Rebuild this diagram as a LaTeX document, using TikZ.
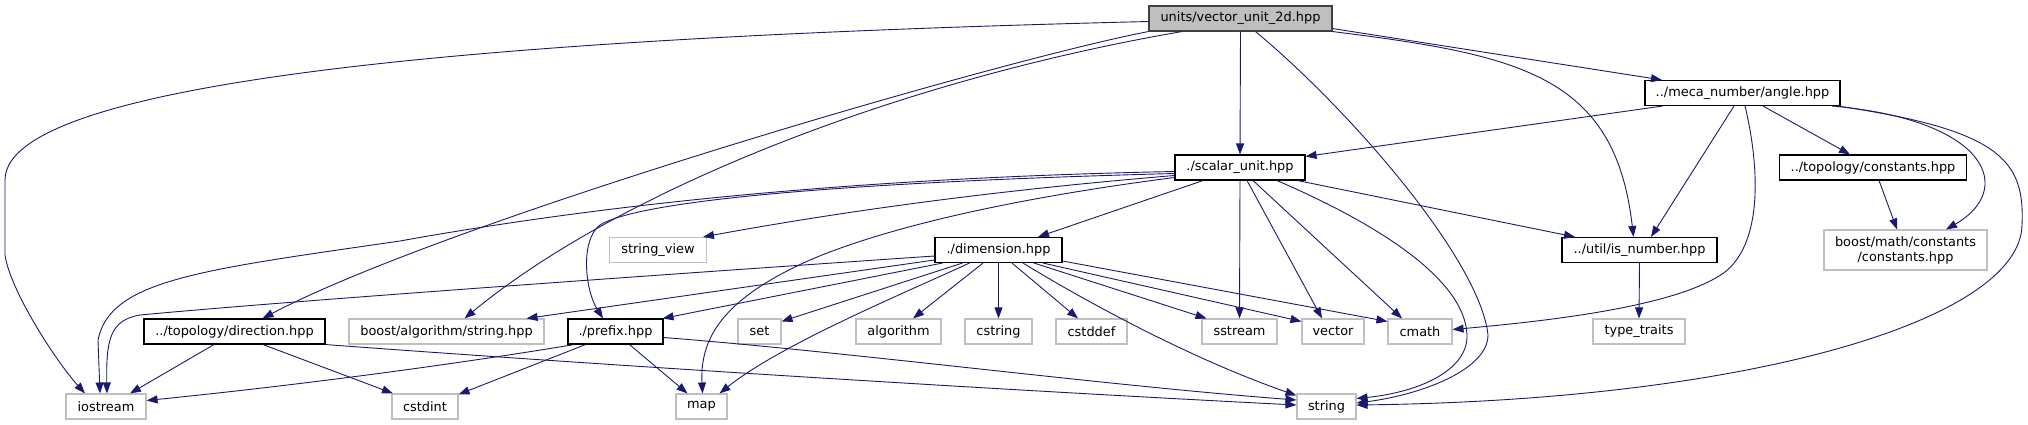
\documentclass[tikz,border=0pt]{standalone}
\usepackage{fontspec}
\setmainfont{DejaVu Sans}
\usetikzlibrary{arrows.meta,calc}
\definecolor{edgec}{RGB}{25,25,112}
\definecolor{greyb}{RGB}{191,191,191}
\definecolor{rootb}{RGB}{64,64,64}
\begin{document}
\begin{tikzpicture}[x=1pt,y=-1pt,
  box/.style={draw=black,line width=1.1pt,fill=white,minimum height=25pt,inner sep=0pt,font=\fontsize{12.9}{15}\selectfont},
  ext/.style={box,draw=greyb},
  root/.style={box,fill=greyb,draw=rootb},
  e/.style={draw=edgec,line width=0.9pt,-{Triangle[length=11pt,width=8pt]}}]
\useasboundingbox (0,0) rectangle (2028,425);
% nodes
\node[root,minimum width=183pt] (VU) at (1240.5,18.5) {units/vector\_unit\_2d.hpp};
\node[box,minimum width=195pt] (AN) at (1742.5,93) {../meca\_number/angle.hpp};
\node[box,minimum width=130pt] (SU) at (1240,167.5) {./scalar\_unit.hpp};
\node[box,minimum width=187pt] (TC) at (1873,167.5) {../topology/constants.hpp};
\node[ext,minimum width=97pt] (SV) at (658,250) {string\_view};
\node[box,minimum width=127pt] (DI) at (998.5,250) {./dimension.hpp};
\node[box,minimum width=155pt] (ISN) at (1639.5,250) {../util/is\_number.hpp};
\node[ext,minimum width=163pt,minimum height=40pt,align=center] (BMC) at (1905.5,250) {boost/math/constants\\/constants.hpp};
\node[box,minimum width=181pt] (DR) at (234.5,331.5) {../topology/direction.hpp};
\node[ext,minimum width=195pt] (BAS) at (446.5,331.5) {boost/algorithm/string.hpp};
\node[box,minimum width=95pt] (PR) at (615.5,331.5) {./prefix.hpp};
\node[ext,minimum width=43pt] (SET) at (759.5,331.5) {set};
\node[ext,minimum width=85pt] (ALG) at (898.5,331.5) {algorithm};
\node[ext,minimum width=67pt] (CS) at (998.5,331.5) {cstring};
\node[ext,minimum width=71pt] (CD) at (1091.5,331.5) {cstddef};
\node[ext,minimum width=75pt] (SS) at (1239.5,331.5) {sstream};
\node[ext,minimum width=62pt] (VEC) at (1333,331.5) {vector};
\node[ext,minimum width=64pt] (CM) at (1420,331.5) {cmath};
\node[ext,minimum width=92pt] (TT) at (1639,331.5) {type\_traits};
\node[ext,minimum width=80pt] (IO) at (106,406.5) {iostream};
\node[ext,minimum width=66pt] (CI) at (425,406.5) {cstdint};
\node[ext,minimum width=51pt] (MAP) at (701.5,406.5) {map};
\node[ext,minimum width=59pt] (STR) at (1326.5,406.5) {string};
% edges from VU
\draw[e] ([yshift=-3pt]VU.west) .. controls (600,35) and (5,70) .. (5,180) -- (5,255) .. controls (10,290) and (55,360) .. ([xshift=-21pt]IO.north);
\draw[e] (VU.south west) .. controls (1000,60) and (450,220) .. ([xshift=28pt]DR.north);
\draw[e] ([xshift=-58.5pt]VU.south) .. controls (900,80) and (620,190) .. ([xshift=18pt]BAS.north);
\draw[e] (VU.south) -- (SU.north);
\draw[e] ([xshift=15pt]VU.south) .. controls (1350,110) and (1480,260) .. (1488,335) .. controls (1488,370) and (1420,395) .. ([yshift=3.5pt]STR.east);
\draw[e] (VU.south east) .. controls (1520,55) and (1615,75) .. ([xshift=-6pt]ISN.north);
\draw[e] ([yshift=3pt]VU.south east) -- ([xshift=-80.5pt]AN.north);
% edges from AN
\draw[e] ([xshift=-80pt]AN.south) -- ([yshift=-2pt]SU.north east);
\draw[e] ([xshift=-8.5pt]AN.south) -- ([xshift=11.5pt]ISN.north);
\draw[e] ([xshift=2.5pt]AN.south) .. controls (1758,160) and (1765,240) .. (1725,272) .. controls (1680,305) and (1560,320) .. ([yshift=2pt]CM.east);
\draw[e] ([xshift=20.5pt]AN.south) -- ([xshift=-23pt]TC.north);
\draw[e] ([xshift=-8.5pt]AN.south east) .. controls (1990,120) and (2015,190) .. ([xshift=40.5pt]BMC.north);
\draw[e] ([xshift=-3pt]AN.south east) .. controls (2000,130) and (2025,160) .. (2022,225) .. controls (2020,320) and (1750,400) .. ([yshift=1.5pt]STR.east);
\draw[e] ([xshift=6pt]TC.south) -- ([xshift=-8.5pt]BMC.north);
\draw[e] (ISN.south) -- (TT.north);
% edges from SU
\draw[e] ([yshift=-8pt]SU.west) .. controls (1000,190) and (850,210) .. ([xshift=45pt]SV.north);
\draw[e] ([yshift=-4pt]SU.west) .. controls (850,178) and (600,205) .. (400,241) .. controls (200,270) and (110,280) .. (98,340) -- ([xshift=-6pt]IO.north);
\draw[e] ([yshift=-6pt]SU.west) .. controls (850,182) and (640,200) .. (600,225) .. controls (580,240) and (585,290) .. ([xshift=-12.5pt]PR.north);
\draw[e] ([yshift=-10pt]SU.west) .. controls (1000,200) and (880,230) .. (810,260) .. controls (720,300) and (700,340) .. ([xshift=1pt]MAP.north);
\draw[e] ([xshift=-37pt]SU.south) -- ([xshift=39.5pt]DI.north);
\draw[e] (SU.south) -- (SS.north);
\draw[e] ([xshift=7pt]SU.south) -- ([xshift=-11pt]VEC.north);
\draw[e] ([xshift=13pt]SU.south) -- ([xshift=-18pt]CM.north);
\draw[e] ([xshift=37pt]SU.south) .. controls (1380,225) and (1465,280) .. (1467,335) .. controls (1468,370) and (1420,392) .. ([yshift=8pt]STR.east);
\draw[e] ([xshift=-8pt]SU.south east) -- ([xshift=-64.5pt]ISN.north);
% edges from DI
\draw[e] ([yshift=-6pt]DI.west) .. controls (700,272) and (300,300) .. (140,315) .. controls (110,320) and (106,340) .. ([xshift=1pt]IO.north);
\draw[e] ([yshift=-10pt]DI.west) -- ([xshift=80pt]BAS.north);
\draw[e] ([xshift=8pt]DI.south west) -- ([xshift=-1pt]PR.north east);
\draw[e] ([xshift=28pt]DI.south west) -- ([yshift=-3pt]SET.north east);
\draw[e] ([xshift=35pt]DI.south west) .. controls (900,295) and (780,345) .. ([xshift=18pt]MAP.north);
\draw[e] ([xshift=-15.5pt]DI.south) -- ([xshift=14.5pt]ALG.north);
\draw[e] (DI.south) -- (CS.north);
\draw[e] ([xshift=13.5pt]DI.south) -- ([xshift=-13.5pt]CD.north);
\draw[e] ([xshift=24.5pt]DI.south) .. controls (1100,310) and (1200,362) .. ([yshift=-2pt]STR.north west);
\draw[e] ([xshift=35.5pt]DI.south) -- ([xshift=-33pt]SS.north);
\draw[e] ([xshift=44.5pt]DI.south) -- ([yshift=-3pt]VEC.north west);
\draw[e] ([yshift=-11pt]DI.east) -- ([yshift=-3pt]CM.north west);
% edges from PR
\draw[e] ([xshift=7pt]PR.south west) .. controls (450,365) and (300,385) .. ([yshift=6pt]IO.east);
\draw[e] ([xshift=-30pt]PR.south) -- ([yshift=-1pt]CI.north east);
\draw[e] ([xshift=14pt]PR.south) -- ([xshift=-14pt]MAP.north);
\draw[e] ([yshift=-6pt]PR.east) .. controls (850,352) and (1100,385) .. ([yshift=6.5pt]STR.west);
% edges from DR
\draw[e] ([xshift=-20.5pt]DR.south) -- ([xshift=24pt]IO.north);
\draw[e] ([xshift=28.5pt]DR.south) -- ([xshift=-32pt]CI.north);
\draw[e] (DR.south east) .. controls (600,365) and (1000,390) .. ([yshift=1.5pt]STR.west);
\end{tikzpicture}
\end{document}
